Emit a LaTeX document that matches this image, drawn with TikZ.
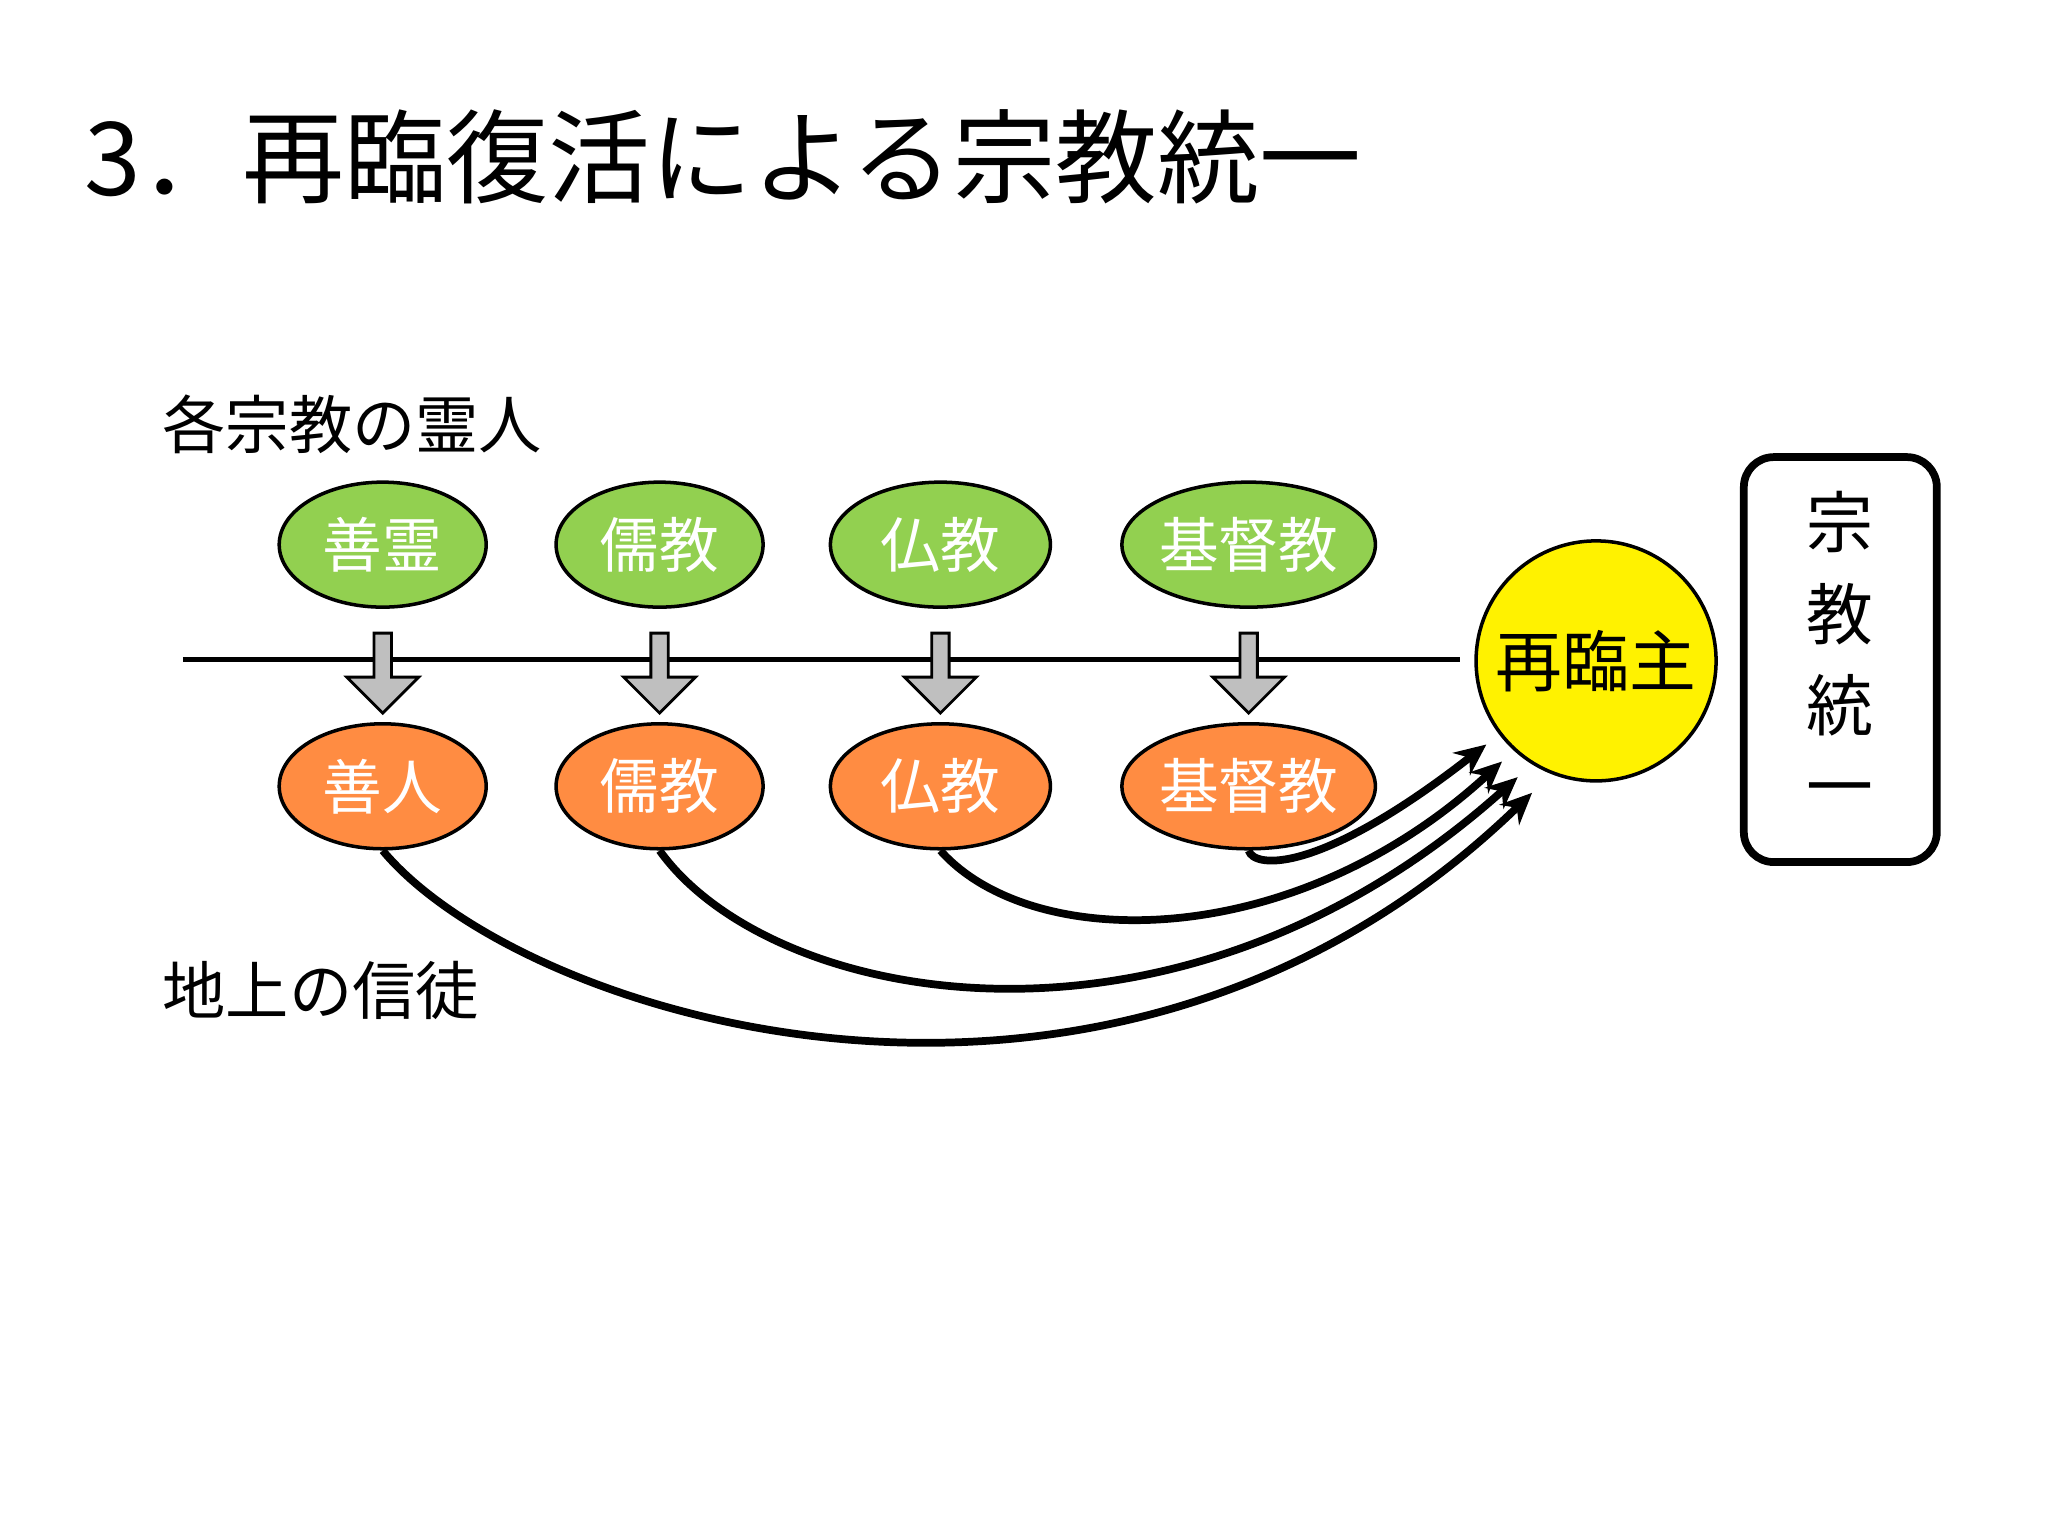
\documentclass[tikz,border=0pt]{standalone}
\usepackage{fontspec}
\setmainfont{Noto Sans CJK JP}
\usetikzlibrary{arrows.meta,shapes.arrows,shapes.geometric}
\definecolor{gr}{HTML}{92D050}
\definecolor{og}{HTML}{FF8C42}
\begin{document}
\begin{tikzpicture}[x=0.013061cm,y=-0.013061cm,
 el/.style={draw,line width=1pt,ellipse,inner sep=0pt,text=white,font=\fontsize{17}{17}\selectfont},
 ge/.style={el,fill=gr,minimum height=1.25cm},
 oe/.style={el,fill=og,minimum height=1.25cm},
 cv/.style={line width=2.2pt,-{Stealth[length=9pt,width=8pt]}},
 lab/.style={font=\fontsize{18}{18}\selectfont,anchor=west}]
\useasboundingbox (0,0) rectangle (1568,1176);
\node[anchor=west,font=\fontsize{29}{29}\selectfont] (title) at (55,120) {3．再臨復活による宗教統一};
\node[lab] (l1) at (115,325) {各宗教の霊人};
\node[lab] (l2) at (115,758) {地上の信徒};
\draw[line width=1.5pt] (140,505) coordinate (hs) -- (1118,505) coordinate (he);
\foreach \i/\x/\a/\b/\w in {1/293/善霊/善人/2.07,2/505/儒教/儒教/2.07,3/720/仏教/仏教/2.2,4/956/基督教/基督教/2.2}{
 \node[ge,minimum width=\w cm] (g\i) at (\x,417) {\a};
 \node[oe,minimum width=\w cm] (o\i) at (\x,602) {\b};
 \node[single arrow,draw,line width=0.8pt,fill=gray!50,shape border rotate=270,minimum width=0.72cm,single arrow head extend=0.2cm,single arrow tip angle=90,minimum height=0.8cm,inner sep=0.05cm] (a\i) at (\x,512) {};
}
\node[circle,draw,line width=1pt,fill=yellow,minimum size=2.4cm,inner sep=0pt,font=\fontsize{19}{19}\selectfont] (c) at (1222,506) {再臨主};
\node[draw,line width=2.2pt,rounded corners=0.3cm,minimum width=1.93cm,minimum height=4.05cm] (r) at (1409,505) {};
\foreach \t/\y in {宗/400,教/470,統/540,一/610} \node[font=\fontsize{19}{19}\selectfont] at (1409,\y) {\t};
\coordinate (e1) at (1173,607); \coordinate (e2) at (1162,595);
\coordinate (e3) at (1150,583); \coordinate (e4) at (1138,570);
\draw[cv] (o1.south) .. controls (400,780) and (850,920) .. (e1);
\draw[cv] (o2.south) .. controls (590,770) and (900,830) .. (e2);
\draw[cv] (o3.south) .. controls (790,730) and (990,730) .. (e3);
\draw[cv] (o4.south) .. controls (960,665) and (1010,670) .. (e4);
\end{tikzpicture}
\end{document}
